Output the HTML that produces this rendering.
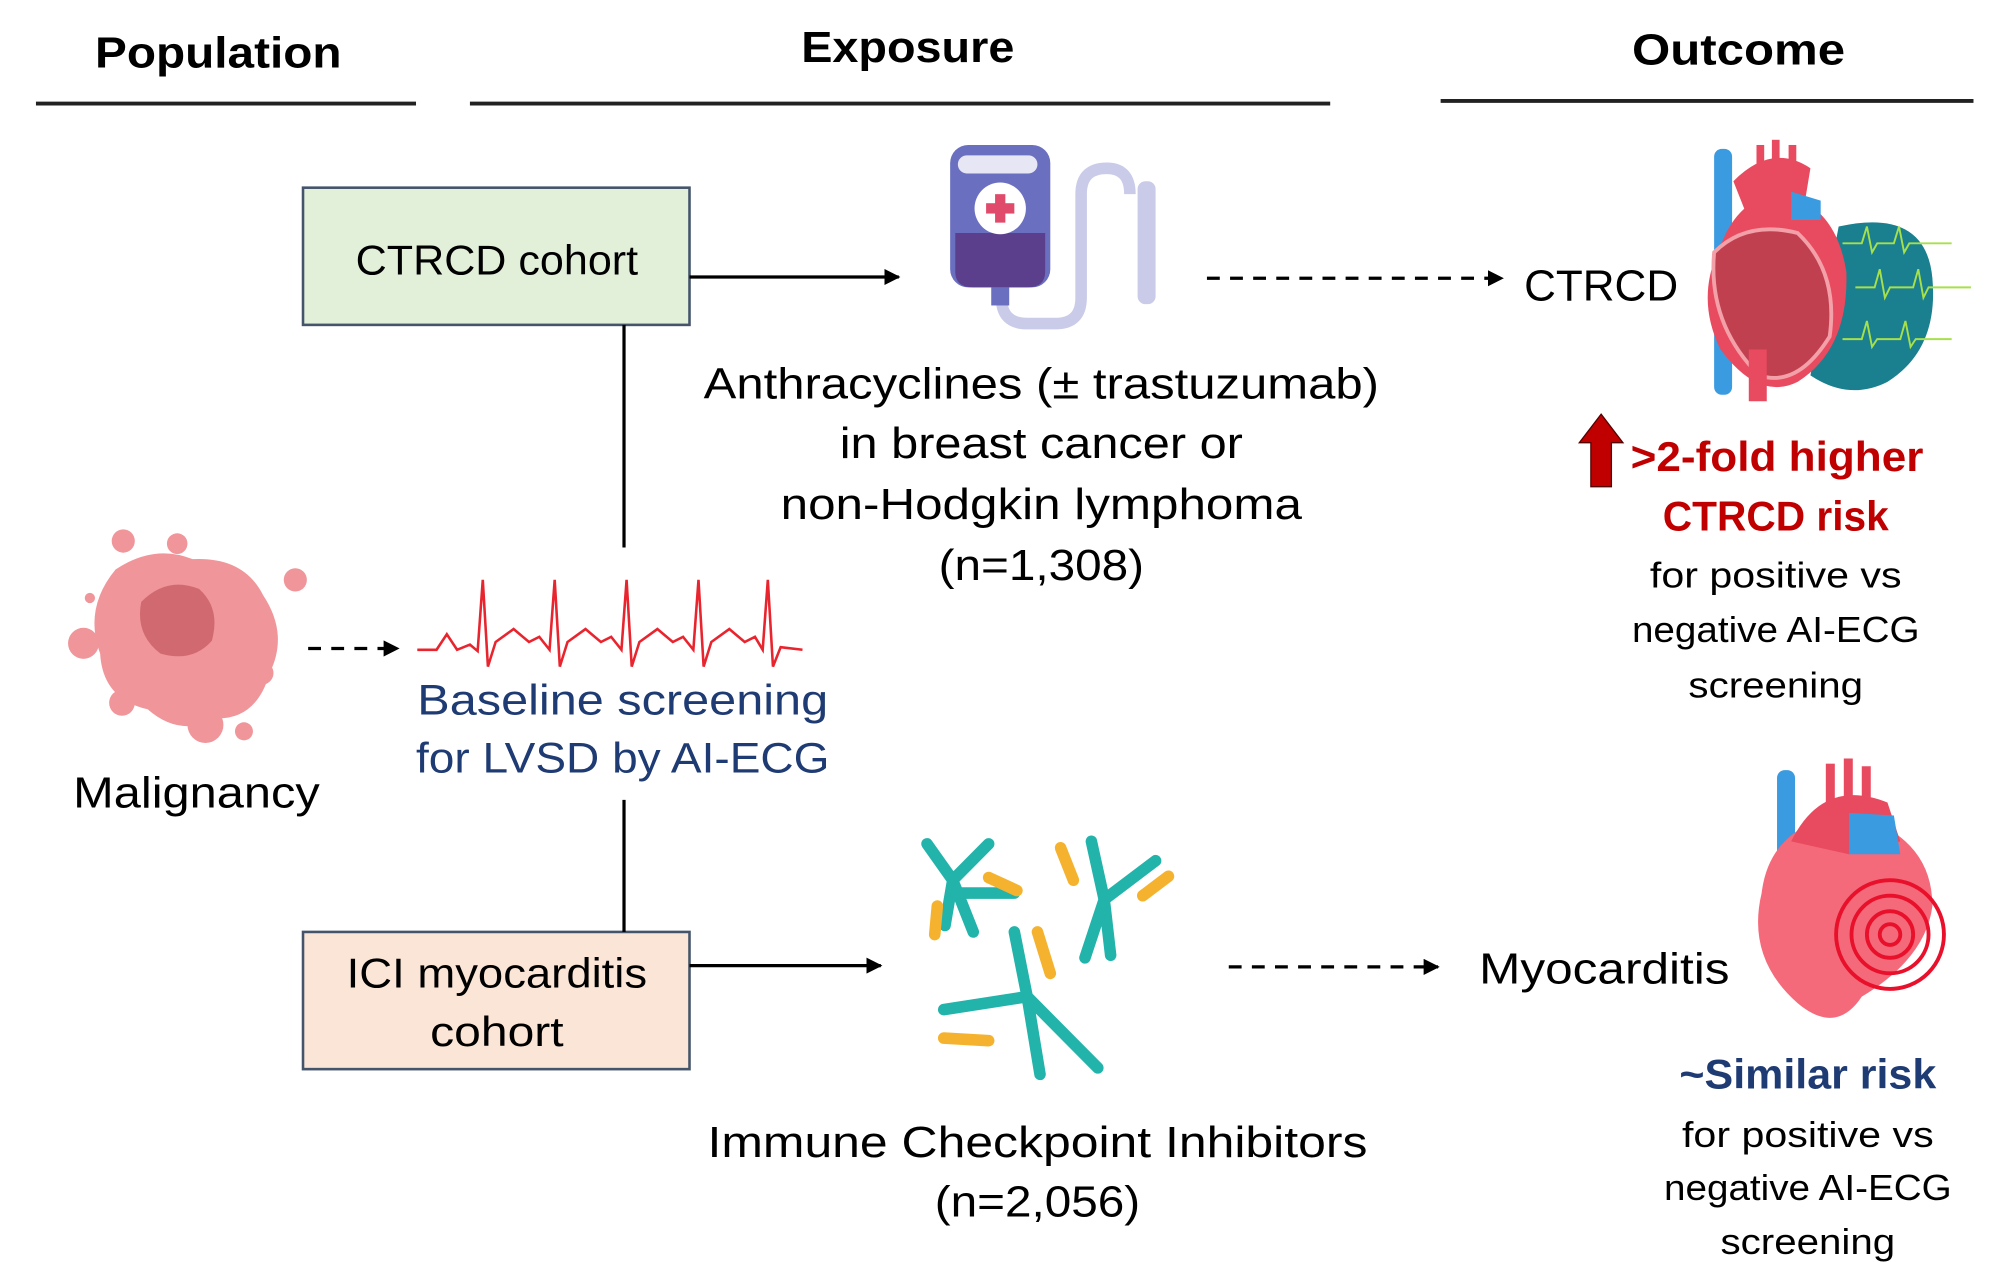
<!DOCTYPE html>
<html><head><meta charset="utf-8"><style>html,body{margin:0;padding:0;background:#fff}svg{display:block}</style></head>
<body>
<svg width="2012" height="1262" viewBox="0 0 1567 975" preserveAspectRatio="none" xmlns="http://www.w3.org/2000/svg" font-family="Liberation Sans, sans-serif">
<defs>
<marker id="ah" viewBox="0 0 10 10" refX="9" refY="5" markerWidth="5" markerHeight="5" orient="auto"><path d="M0,0L10,5L0,10z" fill="#000"/></marker>
</defs>
<g font-weight="bold" font-size="34" text-anchor="middle" fill="#000">
<text x="170" y="52" textLength="192" lengthAdjust="spacingAndGlyphs">Population</text>
<text x="707" y="48" textLength="166" lengthAdjust="spacingAndGlyphs">Exposure</text>
<text x="1354" y="50" textLength="166" lengthAdjust="spacingAndGlyphs">Outcome</text>
</g>
<g stroke="#222" stroke-width="3">
<line x1="28" y1="80" x2="324" y2="80"/><line x1="366" y1="80" x2="1036" y2="80"/><line x1="1122" y1="78" x2="1537" y2="78"/>
</g>
<rect x="236" y="145" width="301" height="106" fill="#e2efd9" stroke="#44546a" stroke-width="2"/>
<text x="387" y="212" font-size="32" text-anchor="middle" textLength="220" lengthAdjust="spacingAndGlyphs">CTRCD cohort</text>
<rect x="236" y="720" width="301" height="106" fill="#fbe5d6" stroke="#44546a" stroke-width="2"/>
<text x="387" y="763" font-size="32" text-anchor="middle" textLength="234" lengthAdjust="spacingAndGlyphs">ICI myocarditis</text>
<text x="387" y="808" font-size="32" text-anchor="middle" textLength="104" lengthAdjust="spacingAndGlyphs">cohort</text>
<g stroke="#000" stroke-width="2.5" fill="none">
<line x1="537" y1="214" x2="700" y2="214" marker-end="url(#ah)"/>
<line x1="537" y1="746" x2="686" y2="746" marker-end="url(#ah)"/>
<line x1="486" y1="251" x2="486" y2="423"/>
<line x1="486" y1="618" x2="486" y2="720"/>
<line x1="940" y1="215" x2="1170" y2="215" stroke-dasharray="10,8" marker-end="url(#ah)"/>
<line x1="957" y1="747" x2="1120" y2="747" stroke-dasharray="10,8" marker-end="url(#ah)"/>
<line x1="240" y1="501" x2="310" y2="501" stroke-dasharray="10,8" marker-end="url(#ah)"/>
</g>
<path d="M880,150 Q880,130 862,130 Q842,130 842,150 L842,230 Q842,250 822,250 L800,250 Q780,250 780,230" stroke="#c9cbe8" stroke-width="9" fill="none"/>
<rect x="886" y="140" width="14" height="95" rx="6" fill="#c9cbe8"/>
<rect x="740" y="112" width="78" height="110" rx="14" fill="#6b6fbf"/>
<rect x="746" y="120" width="62" height="14" rx="7" fill="#e6e6f5"/>
<path d="M744,180 L814,180 L814,210 Q814,222 800,222 L758,222 Q744,222 744,210Z" fill="#5b3f8c"/>
<circle cx="779" cy="161" r="20" fill="#fff"/>
<rect x="775" y="150" width="8" height="22" fill="#e04a6b"/><rect x="768" y="157" width="22" height="8" fill="#e04a6b"/>
<rect x="772" y="222" width="14" height="14" fill="#6b6fbf"/>
<g font-size="34" text-anchor="middle" fill="#000">
<text x="811" y="308" textLength="526" lengthAdjust="spacingAndGlyphs">Anthracyclines (± trastuzumab)</text>
<text x="811" y="354" textLength="314" lengthAdjust="spacingAndGlyphs">in breast cancer or</text>
<text x="811" y="401" textLength="406" lengthAdjust="spacingAndGlyphs">non-Hodgkin lymphoma</text>
<text x="811" y="448" textLength="160" lengthAdjust="spacingAndGlyphs">(n=1,308)</text>
<text x="808" y="894" textLength="514" lengthAdjust="spacingAndGlyphs">Immune Checkpoint Inhibitors</text>
<text x="808" y="940" textLength="160" lengthAdjust="spacingAndGlyphs">(n=2,056)</text>
<text x="1187" y="232" text-anchor="start" textLength="120" lengthAdjust="spacingAndGlyphs">CTRCD</text>
<text x="1152" y="760" text-anchor="start" textLength="195" lengthAdjust="spacingAndGlyphs">Myocarditis</text>
<text x="153" y="624" textLength="192" lengthAdjust="spacingAndGlyphs">Malignancy</text>
</g>
<g fill="#f0959a">
<path d="M90,440 Q120,420 150,432 Q190,430 205,460 Q225,490 210,520 Q200,555 170,555 Q140,570 115,548 Q80,540 78,505 Q65,470 90,440Z"/>
<circle cx="96" cy="418" r="9"/><circle cx="138" cy="420" r="8"/><circle cx="230" cy="448" r="9"/><circle cx="65" cy="497" r="12"/><circle cx="95" cy="543" r="10"/><circle cx="204" cy="520" r="9"/><circle cx="160" cy="560" r="14"/><circle cx="190" cy="565" r="7"/><circle cx="70" cy="462" r="4"/>
</g>
<path d="M110,465 Q130,445 155,455 Q172,470 165,495 Q150,512 125,505 Q105,490 110,465Z" fill="#d06a70"/>
<path d="M325,502 L340,502 L348,490 L356,502 L366,498 L372,503 L376,448 L380,515 L386,496 L400,486 L412,496 L420,492 L428,502 L432,448 L436,515 L442,496 L456,486 L468,496 L476,492 L484,502 L488,448 L492,515 L498,496 L512,486 L524,496 L532,492 L540,502 L544,448 L548,515 L554,496 L568,486 L580,496 L588,492 L594,502 L598,448 L602,515 L608,500 L625,502" stroke="#e8252e" stroke-width="2" fill="none"/>
<g font-size="33" text-anchor="middle" fill="#1f3b73">
<text x="485" y="552" textLength="320" lengthAdjust="spacingAndGlyphs">Baseline screening</text>
<text x="485" y="597" textLength="322" lengthAdjust="spacingAndGlyphs">for LVSD by AI-ECG</text>
</g>
<g stroke="#22b3aa" stroke-width="9" stroke-linecap="round" fill="none">
<path d="M742,680 L758,720 M722,652 L742,680 L770,652 M742,680 L736,715"/>
<path d="M745,690 L790,690"/>
<path d="M860,695 L845,740 M850,650 L860,695 L900,665 M860,695 L865,738"/>
<path d="M800,770 L855,825 M735,780 L800,770 L790,720 M800,770 L810,830"/>
</g>
<g stroke="#f5b22e" stroke-width="9" stroke-linecap="round">
<line x1="730" y1="700" x2="728" y2="722"/><line x1="770" y1="678" x2="792" y2="688"/><line x1="826" y1="655" x2="836" y2="680"/><line x1="890" y1="692" x2="910" y2="677"/><line x1="808" y1="720" x2="818" y2="752"/><line x1="735" y1="802" x2="770" y2="804"/>
</g>
<path d="M1432,175 Q1500,160 1505,215 Q1510,270 1470,295 Q1440,310 1410,290 Z" fill="#1a7f8e"/>
<rect x="1335" y="115" width="14" height="190" rx="6" fill="#3b9be0"/>
<path d="M1340,190 Q1320,230 1340,270 Q1370,310 1400,295 Q1440,270 1438,210 Q1430,160 1390,150 Q1355,150 1340,190Z" fill="#e84a5f"/>
<path d="M1335,195 Q1330,250 1370,290 Q1400,300 1425,260 Q1432,210 1400,180 Q1360,170 1335,195Z" fill="#c04050" stroke="#f3a0a8" stroke-width="3"/>
<path d="M1350,140 Q1380,110 1410,130 L1405,160 L1360,165Z" fill="#e84a5f"/>
<rect x="1368" y="112" width="6" height="30" fill="#e84a5f"/><rect x="1380" y="108" width="6" height="30" fill="#e84a5f"/><rect x="1393" y="112" width="6" height="30" fill="#e84a5f"/>
<path d="M1395,148 L1418,155 L1418,170 L1395,170Z" fill="#3b9be0"/>
<rect x="1362" y="270" width="14" height="40" fill="#e84a5f"/>
<g stroke="#a6e04a" stroke-width="1.5" fill="none">
<path d="M1435,188 L1450,188 L1454,175 L1458,195 L1462,188 L1475,188 L1479,175 L1483,195 L1487,188 L1520,188"/>
<path d="M1445,222 L1460,222 L1464,208 L1468,230 L1472,222 L1490,222 L1494,208 L1498,230 L1502,222 L1535,222"/>
<path d="M1435,262 L1450,262 L1454,248 L1458,268 L1462,262 L1480,262 L1484,248 L1488,268 L1492,262 L1520,262"/>
</g>
<path d="M1247,320 L1264,342 L1255,342 L1255,376 L1239,376 L1239,342 L1230,342Z" fill="#c00000" stroke="#500" stroke-width="1"/>
<g text-anchor="middle" fill="#c00000" font-weight="bold" font-size="32">
<text x="1384" y="364" textLength="228" lengthAdjust="spacingAndGlyphs">&gt;2-fold higher</text>
<text x="1383" y="410" textLength="176" lengthAdjust="spacingAndGlyphs">CTRCD risk</text>
</g>
<g text-anchor="middle" fill="#000" font-size="28">
<text x="1383" y="454" textLength="196" lengthAdjust="spacingAndGlyphs">for positive vs</text>
<text x="1383" y="496" textLength="224" lengthAdjust="spacingAndGlyphs">negative AI-ECG</text>
<text x="1383" y="539" textLength="136" lengthAdjust="spacingAndGlyphs">screening</text>
</g>
<rect x="1384" y="595" width="14" height="90" rx="6" fill="#3b9be0"/>
<path d="M1372,690 Q1360,740 1400,775 Q1430,800 1450,770 Q1500,740 1505,700 Q1505,660 1470,640 Q1420,620 1390,650 Q1375,665 1372,690Z" fill="#f46a7a"/>
<path d="M1395,650 Q1420,600 1470,620 L1480,650 L1440,660Z" fill="#e84a5f"/>
<rect x="1422" y="590" width="7" height="35" fill="#e84a5f"/><rect x="1436" y="586" width="7" height="35" fill="#e84a5f"/><rect x="1450" y="592" width="7" height="30" fill="#e84a5f"/>
<path d="M1440,628 L1475,630 L1480,660 L1440,660Z" fill="#3b9be0"/>
<g fill="none" stroke="#e8102a" stroke-width="3"><circle cx="1472" cy="722" r="42"/><circle cx="1472" cy="722" r="30"/><circle cx="1472" cy="722" r="18"/><circle cx="1472" cy="722" r="8"/></g>
<g text-anchor="middle">
<text x="1408" y="841" fill="#1f3b73" font-weight="bold" font-size="32" textLength="200" lengthAdjust="spacingAndGlyphs">~Similar risk</text>
<text x="1408" y="886" font-size="28" textLength="196" lengthAdjust="spacingAndGlyphs">for positive vs</text>
<text x="1408" y="927" font-size="28" textLength="224" lengthAdjust="spacingAndGlyphs">negative AI-ECG</text>
<text x="1408" y="969" font-size="28" textLength="136" lengthAdjust="spacingAndGlyphs">screening</text>
</g>
</svg>
</body></html>
